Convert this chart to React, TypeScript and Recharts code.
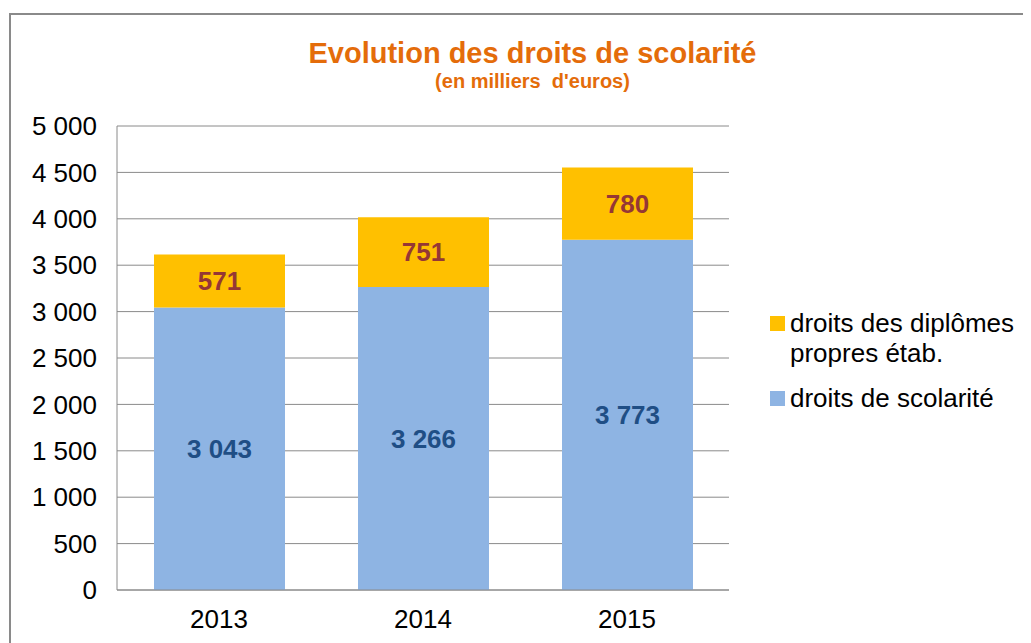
import { BarChart, Bar, XAxis, YAxis, CartesianGrid, LabelList } from 'recharts';

const years = ['2013', '2014', '2015'];
const scolarite = [3043, 3266, 3773];
const diplomes = [571, 751, 780];
const yTicks = [0, 500, 1000, 1500, 2000, 2500, 3000, 3500, 4000, 4500, 5000];

const data = years.map((year, i) => ({ year, scolarite: scolarite[i], diplomes: diplomes[i] }));

const FONT = '"Liberation Sans", Arial, sans-serif';
const fmt = (v: number) => String(v).replace(/\B(?=(\d{3})+(?!\d))/g, ' ');

function LegendBox() {
  const item = (color: string, lines: string[]) => (
    <div style={{ display: 'flex', alignItems: 'flex-start', marginBottom: 15 }}>
      <div style={{ width: 15, height: 15, background: color, marginTop: 8, marginRight: 5 }} />
      <div style={{ fontSize: 26, lineHeight: '30px', color: '#000' }}>
        {lines.map((l) => <div key={l}>{l}</div>)}
      </div>
    </div>
  );
  return (
    <div style={{ fontFamily: FONT }}>
      {item('#FFC000', ['droits des diplômes', 'propres étab.'])}
      {item('#8EB4E3', ['droits de scolarité'])}
    </div>
  );
}

export default function App() {
  return (
    <div style={{ position: 'relative', width: 1023, height: 635, overflow: 'hidden', fontFamily: FONT }}>
      <div style={{ position: 'absolute', left: 1, top: 5, width: 1100, height: 800, border: '2px solid #8a8a8a' }} />
      <div style={{ position: 'absolute', left: 0, top: 28, width: 1023, textAlign: 'center', paddingLeft: 26, boxSizing: 'border-box' }}>
        <div style={{ color: '#E46C0A', fontWeight: 'bold', fontSize: 29, lineHeight: '34px' }}>Evolution des droits de scolarité</div>
        <div style={{ color: '#E46C0A', fontWeight: 'bold', fontSize: 20, lineHeight: '22px', whiteSpace: 'pre' }}>(en milliers  d'euros)</div>
      </div>
      <div style={{ position: 'absolute', left: 0, top: 0 }}>
        <BarChart width={1023} height={635} data={data} margin={{ top: 118, right: 302, left: 0, bottom: 0 }}>
          <CartesianGrid vertical={false} stroke="#8a8a8a" />
          <XAxis
            dataKey="year"
            height={53}
            tickLine={false}
            tickSize={0}
            tickMargin={20}
            axisLine={{ stroke: '#8a8a8a' }}
            tick={{ fill: '#000', fontSize: 26, fontFamily: FONT }}
          />
          <YAxis
            width={109}
            domain={[0, 5000]}
            ticks={yTicks}
            interval={0}
            tickLine={false}
            tickSize={0}
            tickMargin={20}
            axisLine={{ stroke: '#8a8a8a' }}
            tickFormatter={fmt}
            tick={{ fill: '#000', fontSize: 26, fontFamily: FONT }}
          />
          <Bar dataKey="scolarite" stackId="a" fill="#8EB4E3" barSize={131} isAnimationActive={false}>
            <LabelList
              dataKey="scolarite"
              position="center"
              formatter={(v: any) => fmt(Number(v))}
              style={{ fill: '#1F4E85', fontSize: 26, fontWeight: 'bold', fontFamily: FONT }}
            />
          </Bar>
          <Bar dataKey="diplomes" stackId="a" fill="#FFC000" barSize={131} isAnimationActive={false}>
            <LabelList
              dataKey="diplomes"
              position="center"
              formatter={(v: any) => fmt(Number(v))}
              style={{ fill: '#953735', fontSize: 26, fontWeight: 'bold', fontFamily: FONT }}
            />
          </Bar>
        </BarChart>
      </div>
      <div style={{ position: 'absolute', left: 762, top: 300 }}>
        <LegendBox />
      </div>
    </div>
  );
}
